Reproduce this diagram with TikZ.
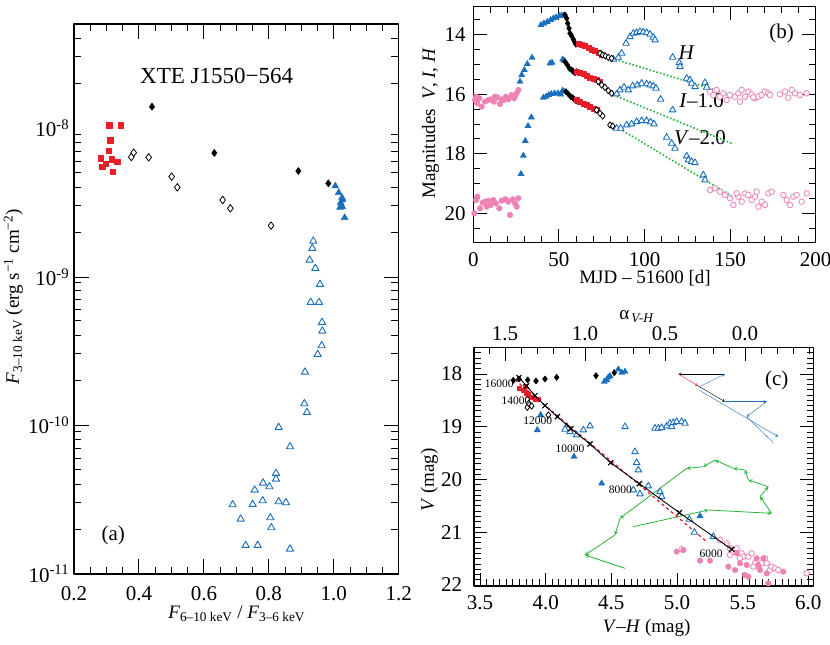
\documentclass[tikz,border=0pt]{standalone}
\usepackage{fontspec}
\setmainfont{Liberation Serif}
\usetikzlibrary{plotmarks}
\begin{document}
\begin{tikzpicture}[x=1pt,y=-1pt,line join=round]
\definecolor{cred}{RGB}{230,30,40}
\definecolor{cblue}{RGB}{25,110,190}
\definecolor{cpink}{RGB}{238,130,180}
\definecolor{cgreen}{RGB}{40,180,60}
\tikzset{
 lab/.style={font=\fontsize{19}{19}\selectfont,inner sep=0pt},
 num/.style={font=\fontsize{21}{21}\selectfont,inner sep=0pt},
 slab/.style={font=\fontsize{11.5}{11.5}\selectfont,inner sep=0.5pt},
 frame/.style={line width=1.3pt},
 tk/.style={line width=0.9pt},
 rsq/.style={cred,fill=cred},
 bdia/.style={black,fill=black},
 odia/.style={black,fill=white,line width=0.8pt},
 btri/.style={cblue,fill=cblue},
 otri/.style={cblue,fill=white,line width=0.9pt},
 pcir/.style={cpink,fill=cpink},
 ocir/.style={cpink,fill=white,line width=0.8pt},
}
\path[use as bounding box,fill=white] (0,0) rectangle (830,645);
% ================= panel (a)
\begin{scope}[x=1/3pt,y=-1/3pt]
\foreach \i in {0,...,20}{\pgfmathsetmacro\xx{222+48.7*\i}\pgfmathtruncatemacro\rr{mod(\i,4)}\ifnum\rr=0 \def\tlen{45}\else\def\tlen{22}\fi
 \draw[tk] (\xx,1722)--++(0,-\tlen); \draw[tk] (\xx,72)--++(0,\tlen);}
\foreach \b in {831,1275,1722}{\foreach \k in {1,...,9}{\pgfmathsetmacro\yy{\b-447*log10(\k)}\ifnum\k=1 \def\tlen{45}\else\def\tlen{22}\fi
 \draw[tk] (222,\yy)--++(\tlen,0); \draw[tk] (1196,\yy)--++(-\tlen,0);}}
\foreach \k in {2,3,4}{\pgfmathsetmacro\yy{384-447*log10(\k)}
 \draw[tk] (222,\yy)--++(22,0); \draw[tk] (1196,\yy)--++(-22,0);}
\draw[frame] (222,72) rectangle (1196,1722);
\foreach \v/\x in {0.2/222,0.4/417,0.6/612,0.8/806,1.0/1001,1.2/1196}\node[num] at (\x,1780) {\v};
\foreach \e/\y in {-8/384,-9/831,-10/1275,-11/1722}\node[num,anchor=east] at (208,\y) {10\textsuperscript{\e}};
\node[lab] at (710,1842) {\textit{F}\textsubscript{6–10 keV} / \textit{F}\textsubscript{3–6 keV}};
\node[lab,rotate=90] at (40,890) {\textit{F}\textsubscript{3–10 keV} (erg s\textsuperscript{−1} cm\textsuperscript{−2})};
\node[font=\fontsize{23}{23}\selectfont,inner sep=0pt] at (650,228) {XTE J1550−564};
\node[num] at (340,1605) {(a)};
\draw[rsq] plot[only marks,mark=square*,mark size=2.7pt] coordinates {(328,376)(363,376)(331,421)(326,452)(302,475)(336,478)(352,486)(318,492)(307,501)(339,515)};
\draw[bdia] plot[only marks,mark=diamond*,mark size=3.6pt] coordinates {(456,320)(643,459)(895,513)(985,550)};
\draw[odia] plot[only marks,mark=diamond*,mark size=3.8pt] coordinates {(394,471)(401,458)(446,472)(515,530)(532,562)(668,600)(691,625)(813,677)};
\draw[btri] plot[only marks,mark=triangle*,mark size=4pt] coordinates {(1006,558)(1016,578)(1026,593)(1028,600)(1022,608)(1020,622)(1027,620)(1034,653)};
\draw[otri] plot[only marks,mark=triangle*,mark size=4.2pt] coordinates {(940,723)(937,745)(929,780)(946,805)(960,853)(932,907)(957,907)
(966,967)(967,993)(965,1037)(953,1063)(915,1116)(913,1211)(921,1237)(836,1282)(870,1340)(828,1420)(828,1437)(789,1449)(808,1460)(764,1470)(698,1514)(758,1513)(788,1502)(836,1505)(858,1508)(722,1557)(811,1553)(814,1583)(737,1636)(773,1636)(870,1647)};
\end{scope}
% ================= panel (b)
\begin{scope}[shift={(420,0)},x=1/3pt,y=-1/3pt]
\foreach \d in {0,...,20}{\pgfmathsetmacro\xx{160+51.35*\d}\pgfmathtruncatemacro\rr{mod(\d,5)}\ifnum\rr=0 \def\tlen{40}\else\def\tlen{20}\fi
 \draw[tk] (\xx,727)--++(0,-\tlen); \draw[tk] (\xx,20)--++(0,\tlen);}
\foreach \j in {-1,...,13}{\pgfmathsetmacro\yy{104+\j*44.665}\pgfmathtruncatemacro\rr{mod(\j+8,4)}\ifnum\rr=0 \def\tlen{40}\else\def\tlen{20}\fi
 \draw[tk] (160,\yy)--++(\tlen,0); \draw[tk] (1187,\yy)--++(-\tlen,0);}
\draw[frame] (160,20) rectangle (1187,727);
\foreach \v in {0,50,100,150,200}\node[num] at (160+5.135*\v,778) {\v};
\foreach \m in {14,16,18,20}\node[num] at (105,104+89.33*\m-1250.62) {\m};
\node[lab] at (675,835) {MJD – 51600 [d]};
\node[lab,rotate=90] at (32,370) {Magnitudes~~\textit{V}, \textit{I}, \textit{H}};
\node[num] at (1085,100) {(b)};
\node[num] at (800,158) {\textit{H}};
\node[num] at (845,302) {\textit{I}–1.0};
\node[num] at (840,412) {\textit{V}–2.0};
\draw[cgreen,line width=1.6pt,dotted] (575,175)--(935,285) (580,285)--(935,430) (580,375)--(935,588);
\draw[pcir] plot[only marks,mark=*,mark size=2.8pt] coordinates {(165,300)(172,310)(178,295)(185,320)(195,305)(205,300)(212,298)(222,305)(232,292)(240,312)(250,300)(258,290)(265,298)(275,285)(282,295)(290,280)(295,270)(168,290)(225,290)(245,298)(285,288)
(163,640)(168,600)(172,590)(180,625)(188,608)(195,605)(205,602)(212,615)(220,600)(228,610)(238,625)(245,602)(255,598)(265,605)(270,645)(278,598)(285,610)(290,620)(295,595)(200,620)(260,600)};
\draw[ocir] plot[only marks,mark=*,mark size=2.8pt] coordinates {(870,275)(880,285)(890,270)(900,290)(910,280)(920,300)(930,285)(945,290)(955,280)(965,270)(975,290)(985,275)(995,283)(1005,295)(1015,290)(1025,285)(1035,275)(1045,280)(1080,283)(1095,275)(1105,293)(1115,270)(1125,280)(1140,285)(1160,280)(960,305)(1000,292)(1050,285)
(870,570)(885,565)(900,575)(915,585)(930,595)(940,615)(955,590)(965,605)(975,580)(985,585)(995,600)(1005,590)(1015,620)(1025,605)(1035,615)(1045,580)(1055,575)(1090,585)(1100,600)(1110,615)(1120,590)(1130,585)(1145,605)(1160,580)(950,580)(1010,575)};
\draw[btri] plot[only marks,mark=triangle*,mark size=3.6pt] coordinates {(303,522)(310,467)(316,423)(324,378)(334,352)(300,245)(305,225)(313,210)(322,192)(336,173)(370,293)(378,290)(386,285)(394,282)(404,280)(414,280)(422,283)(363,75)(372,70)(382,66)(392,60)(400,55)(408,52)(418,48)(425,46)(390,190)(396,188)(428,178)(432,182)(432,46)(428,272)(432,275)};
\draw[otri] plot[only marks,mark=triangle*,mark size=3.8pt] coordinates {(580,178)(595,172)(605,160)(618,130)(630,110)(640,100)(650,98)(660,95)(670,96)(680,98)(690,103)(700,112)(705,120)(758,172)(778,188)(780,200)(800,235)(810,240)(815,250)(825,260)(855,248)(860,262)
(590,282)(600,270)(612,262)(625,270)(638,258)(652,255)(665,250)(680,252)(690,255)(700,258)(708,265)(722,298)(758,330)
(590,385)(602,385)(620,375)(635,372)(650,365)(665,362)(680,362)(692,366)(702,372)(740,412)(755,430)(765,445)(800,468)(805,480)(815,485)(825,488)(850,525)(855,540)};
\draw[bdia] plot[only marks,mark=diamond*,mark size=3.2pt] coordinates {(435,45)(440,55)(443,70)(447,85)(450,100)(455,108)(460,118)(465,128)(468,133)(435,185)(442,195)(448,205)(455,210)(460,215)(465,218)(470,215)(438,275)(445,282)(452,290)(458,293)(463,298)(468,302)};
\draw[rsq] plot[only marks,mark=square*,mark size=2.5pt] coordinates {(475,130)(485,133)(495,138)(505,143)(515,148)(525,152)(535,158)(545,163)(470,215)(480,218)(490,222)(500,228)(510,232)(520,236)(530,240)(540,245)(470,300)(480,305)(490,310)(500,315)(510,320)(520,325)(530,328)};
\draw[odia] plot[only marks,mark=diamond*,mark size=3.2pt] coordinates {(540,160)(548,165)(556,168)(565,172)(575,175)(535,245)(545,255)(555,262)(565,272)(575,280)(530,330)(540,340)(548,348)(570,375)(578,378)};
\end{scope}
% ================= panel (c)
\begin{scope}[shift={(420,300)},x=1/3pt,y=-1/3pt]
\foreach \i in {-1,...,50}{\pgfmathsetmacro\xx{180+19.7*\i}\pgfmathtruncatemacro\rr{mod(\i+10,10)}\ifnum\rr=0 \def\tlen{40}\else\def\tlen{20}\fi
 \draw[tk] (\xx,858)--++(0,-\tlen);}
\foreach \i in {-4,...,16}{\pgfmathsetmacro\xx{975-48*\i}\pgfmathtruncatemacro\rr{mod(\i+10,5)}\ifnum\rr=0 \def\tlen{40}\else\def\tlen{20}\fi
 \draw[tk] (\xx,143)--++(0,\tlen);}
\foreach \i in {-4,...,40}{\pgfmathsetmacro\yy{222+15.83*\i}\pgfmathtruncatemacro\rr{mod(\i+10,10)}\ifnum\rr=0 \def\tlen{40}\else\def\tlen{20}\fi
 \draw[tk] (162,\yy)--++(\tlen,0); \draw[tk] (1180,\yy)--++(-\tlen,0);}
\draw[frame] (162,143) rectangle (1180,858);
\foreach \v/\x in {3.5/180,4.0/377,4.5/574,5.0/771,5.5/968,6.0/1165}\node[num] at (\x,907) {\v};
\foreach \v/\x in {1.5/255,1.0/495,0.5/735,0.0/975}\node[num] at (\x,100) {\v};
\foreach \m/\y in {18/222,19/380,20/538,21/697,22/855}\node[num] at (95,\y) {\m};
\node[lab] at (680,985) {\textit{V}–\textit{H} (mag)};
\node[lab] at (650,50) {α\textsubscript{\,\textit{V-H}}};
\node[lab,rotate=90] at (28,540) {\textit{V} (mag)};
\node[num] at (1070,240) {(c)};
% arrows
\draw[black,->,>=stealth] (915,222)--(775,222);
\draw[cred,->,>=stealth] (775,222)--(835,258);
\draw[black,->,>=stealth] (835,258)--(915,305);
\draw[cblue,->,>=stealth] (835,262)--(915,222);
\draw[cblue,->,>=stealth] (840,272)--(1075,410);
\draw[cblue,->,>=stealth] (915,305)--(1040,305);
\draw[cblue,->,>=stealth] (1040,305)--(980,350);
\draw[cblue] (980,350)--(1060,428);
% green
\foreach \a/\b in {{865,630}/{640,680},{1055,640}/{865,630},{1020,590}/{1055,640},{1045,560}/{1020,590},{985,540}/{1045,560},{975,510}/{985,540},{940,505}/{975,510},{885,480}/{940,505},{850,500}/{885,480},{800,505}/{850,500},{600,655}/{800,505},{585,705}/{600,655},{495,765}/{585,705},{495,765}/{615,805}}
 \draw[cgreen,->,>=stealth,line width=0.8pt] (\b)--(\a);
% data
\draw[ocir] plot[only marks,mark=*,mark size=2.8pt] coordinates {(785,748)(900,720)(920,730)(930,745)(940,755)(950,745)(965,760)(970,770)(985,770)(995,760)(1005,790)(1015,800)(1025,790)(1035,775)(1040,790)(1050,810)(1055,800)(1065,805)(1075,810)(1160,820)(1000,800)(960,775)(930,765)};
\draw[pcir] plot[only marks,mark=*,mark size=2.8pt] coordinates {(770,755)(790,750)(840,782)(870,782)(925,800)(945,810)(960,790)(980,795)(1015,795)(1020,810)(1040,820)(975,825)(985,830)(1090,815)(1045,850)(1010,775)(1030,775)(950,760)};
\draw[cred,line width=1.3pt,dashed] (285,240)--(860,725);
\draw[rsq] plot[only marks,mark=square*,mark size=2.3pt] coordinates {(298,264)(310,270)(318,278)(325,284)(333,292)(345,297)(355,298)(315,258)};
\draw[bdia] plot[only marks,mark=diamond*,mark size=3.2pt] coordinates {(280,241)(297,237)(323,240)(348,243)(375,237)(410,232)(528,227)(583,218)};
\draw[btri] plot[only marks,mark=triangle*,mark size=3.6pt] coordinates {(553,245)(560,240)(565,232)(570,228)(595,208)(605,218)(615,215)(362,345)(352,390)(462,470)(545,550)(840,648)};
\draw[odia] plot[only marks,mark=diamond*,mark size=3.2pt] coordinates {(322,322)(326,310)(335,318)(385,345)(440,380)(445,385)};
\draw[otri] plot[only marks,mark=triangle*,mark size=3.8pt] coordinates {(435,388)(450,395)(470,405)(490,390)(510,378)(615,380)(645,455)(650,488)(655,510)(640,570)(660,582)(685,558)(720,575)(725,590)(808,658)(823,697)(880,710)(705,385)(715,385)(725,383)(740,378)(750,370)(755,380)(760,368)(770,365)(785,365)(795,370)};
\draw[black,line width=0.9pt] plot[mark=x,mark size=3.6pt,mark options={line width=1.1pt}] coordinates {(297,233)(320,258)(345,287)(375,317)(412,350)(453,386)(510,432)(572,488)(658,551)(778,638)(935,748)};
\node[slab] at (238,252) {16000};
\node[slab] at (288,302) {14000};
\node[slab] at (353,362) {12000};
\node[slab] at (450,447) {10000};
\node[slab] at (601,568) {8000};
\node[slab] at (873,762) {6000};
\end{scope}
\end{tikzpicture}
\end{document}
